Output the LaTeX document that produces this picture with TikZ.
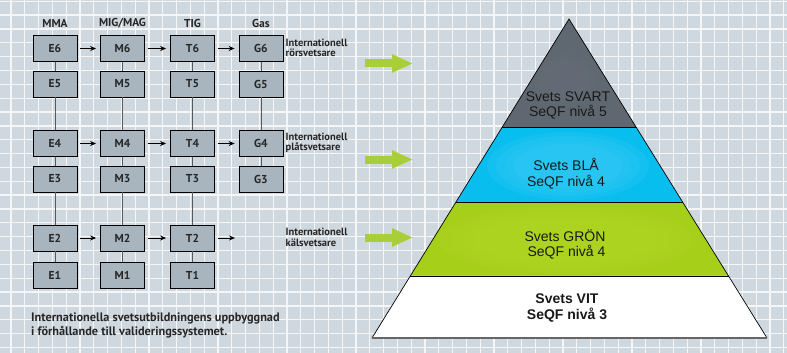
\documentclass[tikz,border=0pt]{standalone}
\usepackage{fontspec}
\setmainfont{Liberation Sans}
\newfontfamily\narrowfont{PT Sans}
\usetikzlibrary{arrows.meta,calc}
\definecolor{bgc}{HTML}{D0D8DF}
\definecolor{gridc}{HTML}{F4F6F8}
\definecolor{boxc}{HTML}{A9B5BE}
\definecolor{linec}{HTML}{555A5E}
\definecolor{svartc}{HTML}{5F6870}
\definecolor{svartl}{HTML}{6A6F7C}
\definecolor{blac}{HTML}{08BEEE}
\definecolor{blal}{HTML}{3CCBF6}
\definecolor{gronc}{HTML}{A6CF1A}
\definecolor{gronl}{HTML}{B0D825}
\definecolor{arrowc}{HTML}{A8CE3A}
\tikzset{
  wbox/.style={draw=black, line width=0.8pt, fill=boxc, minimum width=44pt, minimum height=26pt, inner sep=0pt, font=\narrowfont\bfseries\fontsize{11.5}{11.5}\selectfont, text=black!85},
  head/.style={font=\narrowfont\bfseries\fontsize{11.5}{11.5}\selectfont, inner sep=0pt, text=black!85},
  side/.style={font=\narrowfont\bfseries\fontsize{10.5}{10.5}\selectfont, align=left, anchor=west, inner sep=0pt, text=black!85},
  vline/.style={draw=linec, line width=0.9pt},
  harrow/.style={draw=black, line width=0.9pt, -{Stealth[length=6pt,width=5pt]}, shorten <=3pt, shorten >=4pt},
  garrow/.style={draw=arrowc, line width=8pt, -{Triangle[length=21pt,width=17pt]}},
  lvl/.style={align=center, font=\fontsize{14}{15.5}\selectfont, inner sep=0pt, text=black!90},
  edge/.style={draw=black, line width=0.7pt}
}
\begin{document}
\begin{tikzpicture}[x=1pt,y=-1pt]
\useasboundingbox (0,0) rectangle (787,353);
\fill[bgc] (0,0) rectangle (787,353);
\foreach \i in {0,...,56} \draw[gridc, line width=1.3pt] ({11+13.8*\i},0) -- ++(0,353);
\foreach \j in {0,...,25} \draw[gridc, line width=1.3pt] (0,{1.2+13.85*\j}) -- ++(787,0);

% headers
\node[head] (hE) at (55,23) {MMA};
\node[head] (hM) at (122.5,23) {MIG/MAG};
\node[head] (hT) at (192.5,23) {TIG};
\node[head] (hG) at (261,23) {Gas};

% boxes
\foreach \c/\x in {E/55,M/122.5,T/192.5,G/261}{
  \node[wbox] (\c6) at (\x,48.5) {\c6};
  \node[wbox] (\c5) at (\x,84) {\c5};
  \node[wbox] (\c4) at (\x,143.5) {\c4};
  \node[wbox] (\c3) at (\x,179) {\c3};
}
\foreach \c/\x in {E/55,M/122.5,T/192.5}{
  \node[wbox] (\c2) at (\x,238) {\c2};
  \node[wbox] (\c1) at (\x,275) {\c1};
}
% vertical connectors
\foreach \c in {E,M,T}{
  \draw[vline] (\c6) -- (\c5);
  \draw[vline] (\c5) -- (\c4);
  \draw[vline] (\c4) -- (\c3);
  \draw[vline] (\c3) -- (\c2);
  \draw[vline] (\c2) -- (\c1);
}
\draw[vline] (G6) -- (G5);
\draw[vline] (G5) -- (G4);
\draw[vline] (G4) -- (G3);

% horizontal arrows
\foreach \r in {6,4}{
  \draw[harrow] (E\r) -- (M\r);
  \draw[harrow] (M\r) -- (T\r);
  \draw[harrow] (T\r) -- (G\r);
}
\draw[harrow] (E2) -- (M2);
\draw[harrow] (M2) -- (T2);
\coordinate (T2end) at (239,238);
\draw[harrow] (T2) -- (T2end);

% side labels
\node[side] (l6) at (285.5,48) {Internationell\\rörsvetsare};
\node[side] (l4) at (285.5,143) {Internationell\\plåtsvetsare};
\node[side] (l2) at (285.5,237.5) {Internationell\\kälsvetsare};

% caption
\node[anchor=north west, align=left, inner sep=0pt, text=black!85, font=\narrowfont\bfseries\fontsize{12.3}{14}\selectfont] (cap) at (31,312.5)
 {Internationella svetsutbildningens uppbyggnad\\i förhållande till valideringssystemet.};

% green arrows
\coordinate (g6s) at (365,63.5); \coordinate (g6e) at (413,63.5);
\coordinate (g4s) at (365,159.5); \coordinate (g4e) at (413,159.5);
\coordinate (g2s) at (365,237.5); \coordinate (g2e) at (413,237.5);
\draw[garrow] (g6s) -- (g6e);
\draw[garrow] (g4s) -- (g4e);
\draw[garrow] (g2s) -- (g2e);

% pyramid
\coordinate (apex) at (569,19);
\coordinate (bl) at (372,338);
\coordinate (br) at (767,338);
\coordinate (pl1) at ($(apex)!0.3386!(bl)$); \coordinate (pr1) at ($(apex)!0.3386!(br)$);
\coordinate (pl2) at ($(apex)!0.5737!(bl)$); \coordinate (pr2) at ($(apex)!0.5737!(br)$);
\coordinate (pl3) at ($(apex)!0.8056!(bl)$); \coordinate (pr3) at ($(apex)!0.8056!(br)$);
\fill[svartc] (apex) -- (pr1) -- (pl1) -- cycle;
\fill[blac] (pl1) -- (pr1) -- (pr2) -- (pl2) -- cycle;
\fill[gronc] (pl2) -- (pr2) -- (pr3) -- (pl3) -- cycle;
\fill[white] (pl3) -- (pr3) -- (br) -- (bl) -- cycle;
\begin{scope}
  \clip (apex) -- (pr1) -- (pl1) -- cycle;
  \foreach \k in {1,...,4}
    \fill[svartl, opacity=0.18] (566,80) ellipse [x radius={14+5*\k}, y radius={10+4*\k}];
\end{scope}
\begin{scope}
  \clip (pl1) -- (pr1) -- (pr2) -- (pl2) -- cycle;
  \foreach \k in {1,...,4}
    \fill[blal, opacity=0.22] (568,166) ellipse [x radius={45+9*\k}, y radius={18+4*\k}];
\end{scope}
\begin{scope}
  \clip (pl2) -- (pr2) -- (pr3) -- (pl3) -- cycle;
  \foreach \k in {1,...,4}
    \fill[gronl, opacity=0.2] (566,240) ellipse [x radius={80+12*\k}, y radius={18+4*\k}];
\end{scope}
\draw[edge] (bl) -- (apex) -- (br);
\draw[edge] (pl1) -- (pr1);
\draw[edge] (pl2) -- (pr2);
\draw[edge] (pl3) -- (pr3);
\draw[draw=black!60, line width=1.6pt] (bl) -- (br);

\node[lvl] (svart) at (568,105.5) {Svets SVART\\SeQF nivå 5};
\node[lvl] (bla) at (566,173.5) {Svets BLÅ\\SeQF nivå 4};
\node[lvl] (gron) at (565,244.5) {Svets GRÖN\\\hspace{3pt}SeQF nivå 4};
\node[lvl, font=\bfseries\fontsize{14}{15.5}\selectfont] (vit) at (567,308) {Svets VIT\\SeQF nivå 3};
\end{tikzpicture}
\end{document}
